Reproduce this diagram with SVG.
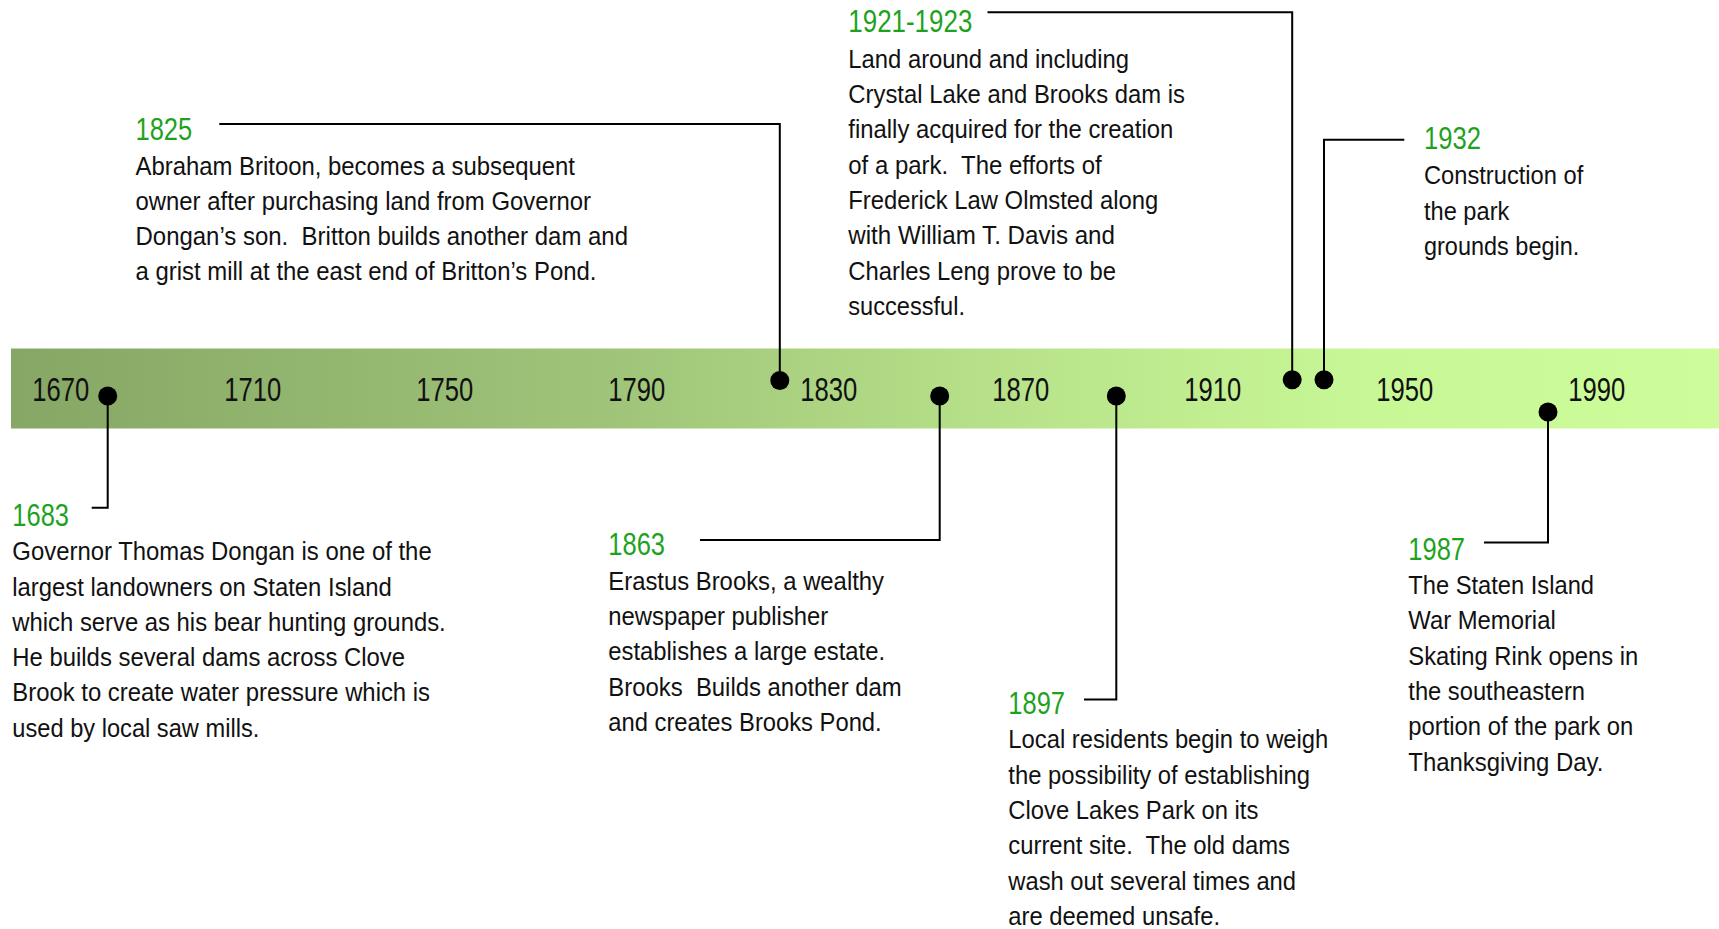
<svg xmlns="http://www.w3.org/2000/svg" width="1719" height="929" viewBox="0 0 1719 929">
  <style>
    text { font-family: "Liberation Sans Narrow", "Liberation Sans", Arial, sans-serif; }
    .tick { font-size: 33px; fill: #111; }
    .yr { font-size: 31px; fill: #1ea21e; }
    .body { font-size: 26px; fill: #111; }
    .conn { fill: none; stroke: #000; stroke-width: 2; }
    .dot { fill: #000; }
  </style>
  <defs>
    <linearGradient id="bandGrad" x1="0" y1="0" x2="1" y2="0">
      <stop offset="0" stop-color="#86a765"/>
      <stop offset="0.35" stop-color="#9fc479"/>
      <stop offset="0.6" stop-color="#b9e48b"/>
      <stop offset="0.8" stop-color="#c8f896"/>
      <stop offset="1" stop-color="#ccfd9a"/>
    </linearGradient>
  </defs>
  <rect width="1719" height="929" fill="#ffffff"/>

  <g id="axis">
    <rect x="11" y="348.5" width="1708" height="80" fill="url(#bandGrad)"/>
    <text class="tick" x="32.3" y="401" textLength="57" lengthAdjust="spacingAndGlyphs">1670</text>
    <text class="tick" x="224.3" y="401" textLength="57" lengthAdjust="spacingAndGlyphs">1710</text>
    <text class="tick" x="416.3" y="401" textLength="57" lengthAdjust="spacingAndGlyphs">1750</text>
    <text class="tick" x="608.3" y="401" textLength="57" lengthAdjust="spacingAndGlyphs">1790</text>
    <text class="tick" x="800.3" y="401" textLength="57" lengthAdjust="spacingAndGlyphs">1830</text>
    <text class="tick" x="992.3" y="401" textLength="57" lengthAdjust="spacingAndGlyphs">1870</text>
    <text class="tick" x="1184.3" y="401" textLength="57" lengthAdjust="spacingAndGlyphs">1910</text>
    <text class="tick" x="1376.3" y="401" textLength="57" lengthAdjust="spacingAndGlyphs">1950</text>
    <text class="tick" x="1568.3" y="401" textLength="57" lengthAdjust="spacingAndGlyphs">1990</text>
  </g>

  <g id="connectors">
    <path class="conn" d="M107.7,396 V507.7 H91.7"/>
    <path class="conn" d="M779.8,380.5 V124 H219.3"/>
    <path class="conn" d="M939.7,396 V540 H700"/>
    <path class="conn" d="M1116.3,396 V699.5 H1084"/>
    <path class="conn" d="M1292.2,379.8 V12.3 H987.5"/>
    <path class="conn" d="M1324,379.8 V139.8 H1404.3"/>
    <path class="conn" d="M1548,412 V542.5 H1484"/>
  </g>

  <g id="event-1683">
    <circle class="dot" cx="107.7" cy="396" r="9.5"/>
    <text class="yr" x="12.3" y="525.7" textLength="56.7" lengthAdjust="spacingAndGlyphs">1683</text>
    <text class="body" x="12.3" y="560.2" textLength="419.4" lengthAdjust="spacingAndGlyphs">Governor Thomas Dongan is one of the</text>
    <text class="body" x="12.3" y="595.5" textLength="379.4" lengthAdjust="spacingAndGlyphs">largest landowners on Staten Island</text>
    <text class="body" x="12.3" y="630.8" textLength="433.4" lengthAdjust="spacingAndGlyphs">which serve as his bear hunting grounds.</text>
    <text class="body" x="12.3" y="666.1" textLength="392.7" lengthAdjust="spacingAndGlyphs">He builds several dams across Clove</text>
    <text class="body" x="12.3" y="701.4" textLength="417.7" lengthAdjust="spacingAndGlyphs">Brook to create water pressure which is</text>
    <text class="body" x="12.3" y="736.7" textLength="247" lengthAdjust="spacingAndGlyphs">used by local saw mills.</text>
  </g>

  <g id="event-1825">
    <circle class="dot" cx="779.8" cy="380.5" r="9.5"/>
    <text class="yr" x="135.5" y="140" textLength="56.7" lengthAdjust="spacingAndGlyphs">1825</text>
    <text class="body" x="135.5" y="174.5" textLength="439.5" lengthAdjust="spacingAndGlyphs">Abraham Britoon, becomes a subsequent</text>
    <text class="body" x="135.5" y="209.8" textLength="455.5" lengthAdjust="spacingAndGlyphs">owner after purchasing land from Governor</text>
    <text class="body" x="135.5" y="245.1" textLength="492.5" lengthAdjust="spacingAndGlyphs" xml:space="preserve">Dongan’s son.  Britton builds another dam and</text>
    <text class="body" x="135.5" y="280.4" textLength="461" lengthAdjust="spacingAndGlyphs">a grist mill at the east end of Britton’s Pond.</text>
  </g>

  <g id="event-1863">
    <circle class="dot" cx="939.7" cy="396" r="9.5"/>
    <text class="yr" x="608.3" y="555" textLength="56.7" lengthAdjust="spacingAndGlyphs">1863</text>
    <text class="body" x="608.3" y="589.7" textLength="275.7" lengthAdjust="spacingAndGlyphs">Erastus Brooks, a wealthy</text>
    <text class="body" x="608.3" y="625" textLength="220" lengthAdjust="spacingAndGlyphs">newspaper publisher</text>
    <text class="body" x="608.3" y="660.3" textLength="276.7" lengthAdjust="spacingAndGlyphs">establishes a large estate.</text>
    <text class="body" x="608.3" y="695.6" textLength="293.4" lengthAdjust="spacingAndGlyphs" xml:space="preserve">Brooks  Builds another dam</text>
    <text class="body" x="608.3" y="730.9" textLength="273.4" lengthAdjust="spacingAndGlyphs">and creates Brooks Pond.</text>
  </g>

  <g id="event-1897">
    <circle class="dot" cx="1116.3" cy="396" r="9.5"/>
    <text class="yr" x="1008.3" y="714.3" textLength="56.7" lengthAdjust="spacingAndGlyphs">1897</text>
    <text class="body" x="1008.3" y="748.3" textLength="320" lengthAdjust="spacingAndGlyphs">Local residents begin to weigh</text>
    <text class="body" x="1008.3" y="783.6" textLength="301.7" lengthAdjust="spacingAndGlyphs">the possibility of establishing</text>
    <text class="body" x="1008.3" y="818.9" textLength="250" lengthAdjust="spacingAndGlyphs">Clove Lakes Park on its</text>
    <text class="body" x="1008.3" y="854.2" textLength="281.7" lengthAdjust="spacingAndGlyphs" xml:space="preserve">current site.  The old dams</text>
    <text class="body" x="1008.3" y="889.5" textLength="287.7" lengthAdjust="spacingAndGlyphs">wash out several times and</text>
    <text class="body" x="1008.3" y="924.8" textLength="211.7" lengthAdjust="spacingAndGlyphs">are deemed unsafe.</text>
  </g>

  <g id="event-1921-1923">
    <circle class="dot" cx="1292.2" cy="379.8" r="9.5"/>
    <text class="yr" x="848.3" y="32.3" textLength="124" lengthAdjust="spacingAndGlyphs">1921-1923</text>
    <text class="body" x="848.3" y="67.8" textLength="280.7" lengthAdjust="spacingAndGlyphs">Land around and including</text>
    <text class="body" x="848.3" y="103.1" textLength="336.7" lengthAdjust="spacingAndGlyphs">Crystal Lake and Brooks dam is</text>
    <text class="body" x="848.3" y="138.4" textLength="325" lengthAdjust="spacingAndGlyphs">finally acquired for the creation</text>
    <text class="body" x="848.3" y="173.7" textLength="253.4" lengthAdjust="spacingAndGlyphs" xml:space="preserve">of a park.  The efforts of</text>
    <text class="body" x="848.3" y="209" textLength="310" lengthAdjust="spacingAndGlyphs">Frederick Law Olmsted along</text>
    <text class="body" x="848.3" y="244.3" textLength="266.7" lengthAdjust="spacingAndGlyphs">with William T. Davis and</text>
    <text class="body" x="848.3" y="279.6" textLength="267.7" lengthAdjust="spacingAndGlyphs">Charles Leng prove to be</text>
    <text class="body" x="848.3" y="314.9" textLength="116.7" lengthAdjust="spacingAndGlyphs">successful.</text>
  </g>

  <g id="event-1932">
    <circle class="dot" cx="1324" cy="379.8" r="9.5"/>
    <text class="yr" x="1424" y="149.3" textLength="57" lengthAdjust="spacingAndGlyphs">1932</text>
    <text class="body" x="1424" y="184.3" textLength="159.3" lengthAdjust="spacingAndGlyphs">Construction of</text>
    <text class="body" x="1424" y="219.6" textLength="85.3" lengthAdjust="spacingAndGlyphs">the park</text>
    <text class="body" x="1424" y="254.9" textLength="155.3" lengthAdjust="spacingAndGlyphs">grounds begin.</text>
  </g>

  <g id="event-1987">
    <circle class="dot" cx="1548" cy="412" r="9.5"/>
    <text class="yr" x="1408.3" y="560" textLength="56.7" lengthAdjust="spacingAndGlyphs">1987</text>
    <text class="body" x="1408.3" y="594" textLength="185.7" lengthAdjust="spacingAndGlyphs">The Staten Island</text>
    <text class="body" x="1408.3" y="629.3" textLength="147.4" lengthAdjust="spacingAndGlyphs">War Memorial</text>
    <text class="body" x="1408.3" y="664.6" textLength="230" lengthAdjust="spacingAndGlyphs">Skating Rink opens in</text>
    <text class="body" x="1408.3" y="699.9" textLength="176.7" lengthAdjust="spacingAndGlyphs">the southeastern</text>
    <text class="body" x="1408.3" y="735.2" textLength="225" lengthAdjust="spacingAndGlyphs">portion of the park on</text>
    <text class="body" x="1408.3" y="770.5" textLength="195" lengthAdjust="spacingAndGlyphs">Thanksgiving Day.</text>
  </g>
</svg>
